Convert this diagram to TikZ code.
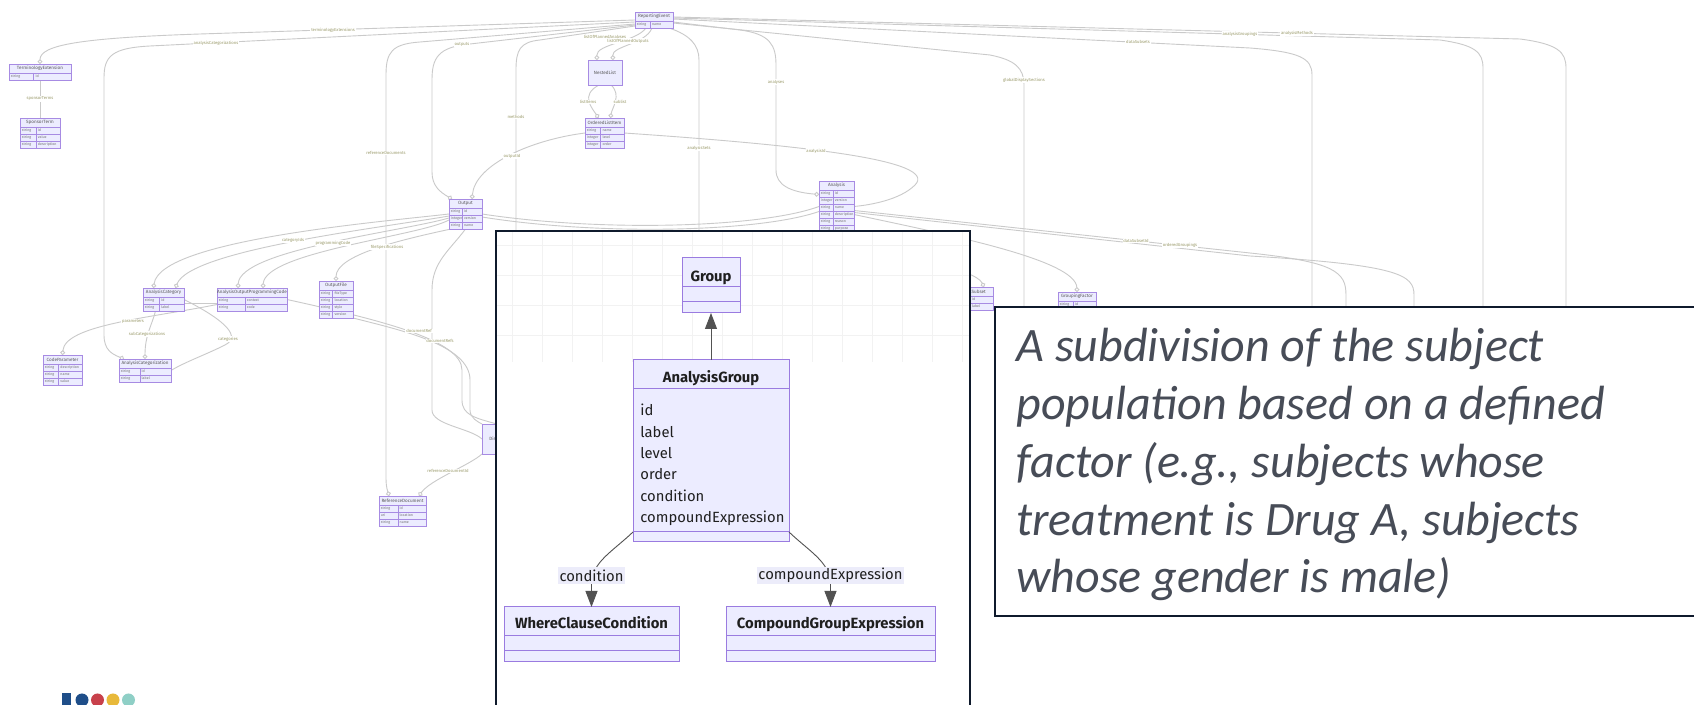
\documentclass[tikz,border=0pt]{standalone}
\usepackage{fontspec}
\setmainfont{Fira Sans}
\newfontfamily\calfont{Carlito}
\usetikzlibrary{arrows.meta,calc}

\pgfdeclarelayer{bottom}
\pgfdeclarelayer{links}
\pgfsetlayers{bottom,links,main}

\definecolor{erfill}{HTML}{ECECFF}
\definecolor{erborder}{HTML}{A78BE3}
\definecolor{relgray}{HTML}{CACACA}
\definecolor{rellabel}{HTML}{9A9A6A}
\definecolor{umlfill}{HTML}{ECECFF}
\definecolor{umlborder}{HTML}{9A7BE0}
\definecolor{edgedark}{HTML}{333333}
\definecolor{labelbg}{HTML}{ECECFA}
\definecolor{framenavy}{HTML}{0F1A2C}
\definecolor{bodytext}{HTML}{474C57}
\definecolor{logoblue}{HTML}{1F4E89}
\definecolor{logored}{HTML}{C8414B}
\definecolor{logoyellow}{HTML}{E8B93A}
\definecolor{logoteal}{HTML}{8FCFC6}

% entity box of the relationship map: name, top-left, width (px), rows, title, type/attribute rows
\newcommand\erbox[6]{%
  \node[erbody, minimum width={#3*0.5pt}, minimum height={(9+7*#4)*0.5pt}, anchor=north west] (#1) at (#2) {};
  \node[ertitle] (#1-t) at ($(#1.north)+(0,4.5)$) {#5};
  \draw[erline] ($(#1.north west)+(0,9)$) -- ($(#1.north east)+(0,9)$);
  \draw[erline] ($(#1.north west)+({0.4*#3},9)$) -- ($(#1.south west)+({0.4*#3},0)$);
  \foreach \ty/\at [count=\k] in {#6}{%
    \node[ertext, anchor=west] (#1-a\k) at ($(#1.north west)+(1.5,{5.5+7*\k})$) {\ty};
    \node[ertext, anchor=west] (#1-b\k) at ($(#1.north west)+({0.4*#3+1.5},{5.5+7*\k})$) {\at};
    \ifnum\k>1 \draw[erline] ($(#1.north west)+(0,{2+7*\k})$) -- ($(#1.north east)+(0,{2+7*\k})$);\fi
  }%
}

\begin{document}
\begin{tikzpicture}[x=0.5pt,y=-0.5pt,
  erbody/.style={draw=erborder, fill=erfill, line width=0.4pt, inner sep=0pt, outer sep=0pt},
  erplain/.style={erbody, font=\fontsize{2.3}{2.6}\selectfont, text=black!65},
  ertitle/.style={inner sep=0pt, font=\fontsize{2.3}{2.6}\selectfont, text=black!65},
  ertext/.style={inner sep=0pt, font=\fontsize{1.8}{2.1}\selectfont, text=black!55},
  erline/.style={draw=erborder, line width=0.3pt},
  rel/.style={draw=relgray, line width=0.45pt},
  zo/.style={-{Circle[open,length=2.4pt,width=2.4pt,fill=white]}},
  rlab/.style={inner sep=0.4pt, fill=white, font=\fontsize{2.1}{2.4}\selectfont, text=rellabel},
  umlbox/.style={draw=umlborder, fill=umlfill, line width=0.5pt, inner sep=0pt, outer sep=0pt},
  umlsep/.style={draw=umlborder, line width=0.5pt},
  umltitle/.style={inner sep=0pt, font=\fontsize{7.4}{8}\selectfont\bfseries, text=black!88},
  umlattr/.style={inner sep=0pt, font=\fontsize{7.4}{8}\selectfont, text=black!88},
  umllab/.style={fill=labelbg, inner xsep=0.6pt, inner ysep=0pt, minimum height=8.5pt, font=\fontsize{7.4}{8}\selectfont, text=black!88},
  umledge/.style={draw=edgedark!85, line width=0.45pt},
  umltip/.style={-{Triangle[length=8pt,width=6pt]}},
  frame/.style={draw=framenavy, line width=1.3pt}]

\useasboundingbox (0,0) rectangle (1694,705);
\begin{pgfonlayer}{bottom}
  \fill[white] (0,0) rectangle (1694,705);
\end{pgfonlayer}

% ---------- relationship map in the background ----------
\erbox{re}{635,12}{38}{1}{ReportingEvent}{string/name}
\erbox{te}{9,64}{62}{1}{TerminologyExtension}{string/id}
\erbox{st}{20,118}{40}{3}{SponsorTerm}{string/id, string/value, string/description}
\node[erplain, minimum width=17pt, minimum height=12.5pt, anchor=north west] (nl) at (588,60) {NestedList};
\erbox{oli}{585,118}{39}{3}{OrderedListItem}{string/name, integer/level, integer/order}
\erbox{out}{449,199}{33}{3}{Output}{string/id, integer/version, string/name}
\erbox{an}{819,181}{35}{6}{Analysis}{string/id, integer/version, string/name, string/description, string/reason, string/purpose}
\erbox{acat}{143,288}{41}{2}{AnalysisCategory}{string/id, string/label}
\erbox{apc}{217,288}{70}{2}{AnalysisOutputProgrammingCode}{string/context, string/code}
\erbox{of}{319,281}{34}{4}{OutputFile}{string/fileType, string/location, string/style, string/version}
\erbox{cp}{43,355}{39}{3}{CodeParameter}{string/description, string/name, string/value}
\erbox{acz}{119,359}{52}{2}{AnalysisCategorization}{string/id, string/label}
\erbox{rd}{379,496}{47}{3}{ReferenceDocument}{string/id, uri/location, string/name}
\node[erplain, minimum width=15pt, minimum height=15pt, anchor=north west] (od) at (482,424) {Display};
\erbox{ds}{955,287}{38}{2}{DataSubset}{string/id, string/label}
\erbox{og}{1058,292}{38}{2}{GroupingFactor}{string/id, string/label}

% connectors, kept under the entity boxes
\begin{pgfonlayer}{links}
\draw[rel, zo] (re.west) -- (200,34) .. controls (80,38) and (40,45) .. (te.north);
\draw[rel, zo] ($(re.west)+(0,2)$) -- (150,46) .. controls (112,48) and (104,56) .. (104,78) -- (104,335) .. controls (104,350) and (112,354) .. ($(acz.north west)+(5,0)$);
\draw[rel, zo] ($(re.west)+(0,4)$) -- (420,42) .. controls (392,44) and (386,52) .. (386,75) -- (386,478) .. controls (386,488) and (388,492) .. ($(rd.north west)+(10,0)$);
\draw[rel, zo] ($(re.west)+(0,5)$) -- (470,44) .. controls (438,47) and (432,58) .. (432,80) -- (432,172) .. controls (432,186) and (440,192) .. ($(out.north west)+(3,0)$);
\draw[rel] ($(re.west)+(0,6)$) -- (540,40) .. controls (520,42) and (516,50) .. (516,70) -- (516,240);
\draw[rel, zo] ($(re.south)+(-8,0)$) .. controls (636,42) and (596,44) .. ($(nl.north)+(-8,0)$);
\draw[rel, zo] ($(re.south)+(-2,0)$) .. controls (646,44) and (612,46) .. ($(nl.north)+(8,0)$);
\draw[rel, zo] ($(nl.south)+(-6,0)$) .. controls (580,95) and (592,108) .. ($(oli.north)+(-6,0)$);
\draw[rel, zo] ($(nl.south)+(6,0)$) .. controls (622,95) and (612,108) .. ($(oli.north)+(6,0)$);
\draw[rel, zo] (oli.west) .. controls (530,140) and (475,165) .. ($(out.north east)+(-10,0)$);
\draw[rel] (oli.east) .. controls (800,145) and (940,160) .. (915,185) .. controls (900,200) and (870,205) .. (an.east);
\draw[rel, zo] ($(re.east)+(0,2)$) -- (740,30) .. controls (770,34) and (776,45) .. (776,65) -- (776,170) .. controls (776,185) and (790,192) .. ($(an.west)+(0,-12)$);
\draw[rel] ($(re.south east)+(-4,0)$) .. controls (690,35) and (699,45) .. (699,60) -- (699,240);
\draw[rel] ($(re.east)+(0,3)$) -- (990,55) .. controls (1015,60) and (1024,68) .. (1024,85) -- (1024,310);
\draw[rel] ($(re.east)+(0,-1)$) -- (1250,48) .. controls (1300,52) and (1312,58) .. (1312,75) -- (1312,310);
\draw[rel] ($(re.east)+(0,-2)$) -- (1440,40) .. controls (1475,45) and (1483,52) .. (1483,68) -- (1483,310);
\draw[rel] ($(re.east)+(0,-3)$) -- (1520,39) .. controls (1558,44) and (1566,52) .. (1566,68) -- (1566,310);
\draw[rel] (out.east) .. controls (600,232) and (760,228) .. (an.west);
\draw[rel] ($(out.east)+(0,3)$) .. controls (600,236) and (760,232) .. ($(an.west)+(0,5)$);
\draw[rel, zo] (out.west) .. controls (380,222) and (160,240) .. ($(acat.north)+(-10,0)$);
\draw[rel, zo] ($(out.west)+(0,2)$) .. controls (380,228) and (190,250) .. ($(acat.north)+(12,0)$);
\draw[rel, zo] ($(out.west)+(0,4)$) .. controls (400,232) and (240,250) .. ($(apc.north)+(-14,0)$);
\draw[rel, zo] ($(out.west)+(0,6)$) .. controls (420,236) and (265,252) .. ($(apc.north)+(11,0)$);
\draw[rel, zo] ($(out.south west)+(2,0)$) .. controls (400,240) and (336,255) .. (of.north);
\draw[rel, zo] ($(acat.south)+(-8,0)$) .. controls (152,325) and (145,335) .. (acz.north);
\draw[rel] (acat.east) .. controls (215,315) and (245,335) .. (225,345) .. controls (205,355) and (185,362) .. (acz.east);
\draw[rel] ($(acat.east)+(0,4)$) -- ($(apc.west)+(0,4)$);
\draw[rel, zo] ($(apc.west)+(0,5)$) .. controls (150,318) and (65,325) .. (cp.north);
\draw[rel] (apc.east) .. controls (380,320) and (462,340) .. (462,370) -- (462,400) .. controls (462,415) and (475,418) .. (od.north);
\draw[rel] (of.south east) .. controls (400,330) and (470,345) .. (470,380) -- (470,410) .. controls (470,418) and (478,422) .. (od.north west);
\draw[rel] (out.south) .. controls (450,250) and (432,262) .. (432,290) -- (432,410) .. controls (432,425) and (470,428) .. (od.west);
\draw[rel, zo] (od.south west) .. controls (470,465) and (430,480) .. ($(rd.north east)+(-7,0)$);
\draw[rel] (te.south) -- (st.north);
\draw[rel] ($(an.east)+(0,4)$) -- (1250,253) .. controls (1335,262) and (1346,272) .. (1346,295) -- (1346,310);
\draw[rel] ($(an.east)+(0,6)$) -- (1250,256) .. controls (1400,265) and (1414,275) .. (1414,295) -- (1414,310);
\draw[rel, zo] ($(an.east)+(0,8)$) .. controls (950,235) and (1076,260) .. (og.north);
\draw[rel, zo] ($(an.south east)+(-3,0)$) .. controls (900,260) and (975,268) .. ($(ds.north)+(10,0)$);
\end{pgfonlayer}

% relationship labels
\node[rlab] (l1) at (333,30) {terminologyExtensions};
\node[rlab] (l2) at (216,43) {analysisCategorizations};
\node[rlab] (l3) at (386,153) {referenceDocuments};
\node[rlab] (l4) at (462,44.5) {outputs};
\node[rlab] (l5) at (516,117) {methods};
\node[rlab] (l6) at (605,37) {listOfPlannedAnalyses};
\node[rlab] (l7) at (628,41) {listOfPlannedOutputs};
\node[rlab] (l8) at (588,102) {listItems};
\node[rlab] (l9) at (620,102) {sublist};
\node[rlab] (l10) at (512,156) {outputId};
\node[rlab] (l11) at (816,151) {analysisId};
\node[rlab] (l12) at (776,82) {analyses};
\node[rlab] (l13) at (699,148) {analysisSets};
\node[rlab] (l14) at (1024,80) {globalDisplaySections};
\node[rlab] (l15) at (1138,42) {dataSubsets};
\node[rlab] (l16) at (1240,34) {analysisGroupings};
\node[rlab] (l17) at (1297,33) {analysisMethods};
\node[rlab] (l18) at (40,99) {sponsorTerms};
\node[rlab] (l19) at (293,240) {categoryIds};
\node[rlab] (l20) at (333,243) {programmingCode};
\node[rlab] (l21) at (387,247) {fileSpecifications};
\node[rlab] (l22) at (147,334) {subCategorizations};
\node[rlab] (l23) at (228,339) {categories};
\node[rlab] (l24) at (133,322) {parameters};
\node[rlab] (l25) at (419,331) {documentRef};
\node[rlab] (l26) at (440,341) {documentRefs};
\node[rlab] (l27) at (448,471) {referenceDocumentId};
\node[rlab] (l28) at (1136,241) {dataSubsetId};
\node[rlab] (l29) at (1180,245) {orderedGroupings};

% ---------- class diagram panel ----------
\fill[white] (496,231) rectangle (970,712);
\begin{scope}
  \clip (497,232) rectangle (969,362);
  \foreach \gx in {512,542,...,962} \draw[black!5, line width=0.4pt] (\gx,232) -- (\gx,362);
  \foreach \gy in {245,275,305,335} \draw[black!5, line width=0.4pt] (497,\gy) -- (969,\gy);
\end{scope}

\node[umlbox, minimum width=29pt, minimum height=27.5pt, anchor=north west] (grp) at (682,258) {};
\draw[umlsep] ($(grp.north west)+(0,29)$) -- ($(grp.north east)+(0,29)$);
\draw[umlsep] ($(grp.north west)+(0,44)$) -- ($(grp.north east)+(0,44)$);
\node[umltitle, anchor=base] (grp-t) at (711,281.5) {Group};

\node[umlbox, minimum width=78pt, minimum height=91pt, anchor=north west] (ag) at (633,360) {};
\draw[umlsep] ($(ag.north west)+(0,29)$) -- ($(ag.north east)+(0,29)$);
\draw[umlsep] ($(ag.north west)+(0,172)$) -- ($(ag.north east)+(0,172)$);
\node[umltitle, anchor=base] (ag-t) at (711,383) {AnalysisGroup};
\foreach \a [count=\i] in {id,label,level,order,condition,compoundExpression}
  \node[umlattr, anchor=base west] (ag-\i) at (640,{415.7+21.4*(\i-1)}) {\a};

\node[umlbox, minimum width=87.5pt, minimum height=27.5pt, anchor=north west] (wcc) at (504,607) {};
\draw[umlsep] ($(wcc.north west)+(0,29)$) -- ($(wcc.north east)+(0,29)$);
\draw[umlsep] ($(wcc.north west)+(0,44)$) -- ($(wcc.north east)+(0,44)$);
\node[umltitle, anchor=base] (wcc-t) at (591.5,629) {WhereClauseCondition};

\node[umlbox, minimum width=104.5pt, minimum height=27.5pt, anchor=north west] (cge) at (726,607) {};
\draw[umlsep] ($(cge.north west)+(0,29)$) -- ($(cge.north east)+(0,29)$);
\draw[umlsep] ($(cge.north west)+(0,44)$) -- ($(cge.north east)+(0,44)$);
\node[umltitle, anchor=base] (cge-t) at (830.5,629) {CompoundGroupExpression};

\draw[umledge, umltip] (ag.north) -- (grp.south);
\draw[umledge, umltip] ($(ag.south west)+(0,-10)$) .. controls (612,552) and (592,562) .. (591.5,584) -- (wcc.north);
\draw[umledge, umltip] ($(ag.south east)+(0,-10)$) .. controls (810,552) and (830,562) .. (830.5,584) -- (cge.north);
\node[umllab] (lab-c) at (591.5,575.5) {condition};
\node[umllab] (lab-ce) at (830.5,575.5) {compoundExpression};

\draw[frame] (496,712) -- (496,231) -- (970,231) -- (970,712);

% ---------- definition box ----------
\draw[framenavy, line width=0.9pt, fill=white] (995,307) rectangle (1702,616);
% a multi-line node sits on the baseline of its last line
\node[anchor=base west, align=left, inner sep=0pt, text=bodytext,
      font=\calfont\itshape\fontsize{24}{28.9}\selectfont] (def) at (1016,593)
  {A subdivision of the subject\\population based on a defined\\factor (e.g., subjects whose\\treatment is Drug A, subjects\\whose gender is male)};

% ---------- logo ----------
\fill[logoblue] (62,693) rectangle (71,706);
\fill[logoblue] (82,700) circle (6.5);
\fill[logored] (97.5,700) circle (6.5);
\fill[logoyellow] (113,700) circle (6.5);
\fill[logoteal] (128.5,700) circle (6.5);
\end{tikzpicture}
\end{document}
